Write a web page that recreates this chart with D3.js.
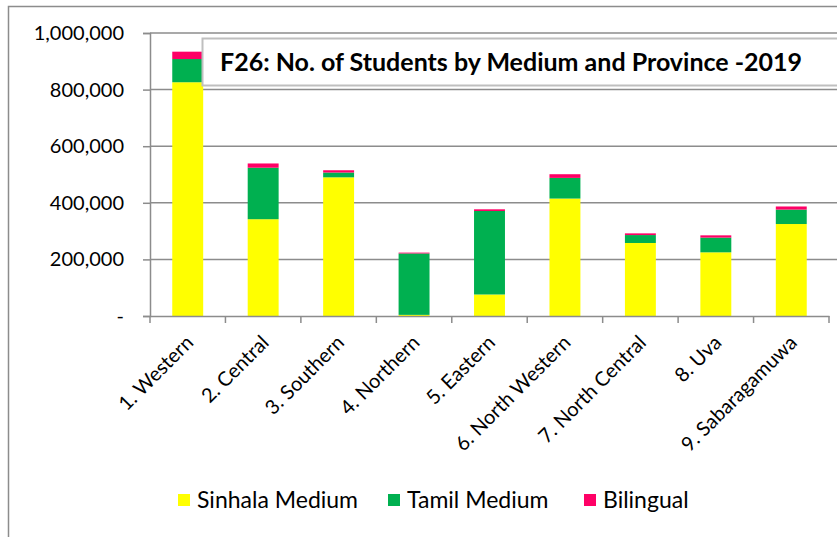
<!DOCTYPE html>
<html lang="en">
<head>
<meta charset="utf-8">
<title>F26: No. of Students by Medium and Province -2019</title>
<script src="https://d3js.org/d3.v7.min.js"></script>
<style>
  body { margin: 0; background: #fff; }
  svg text { font-family: Lato, "Open Sans", sans-serif; fill: #000; }
</style>
</head>
<body>
<div id="chart"></div>
<script>
// data
var provinces = ["1. Western", "2. Central", "3. Southern", "4. Northern", "5. Eastern",
                 "6. North Western", "7. North Central", "8. Uva", "9. Sabaragamuwa"];
var sinhala   = [826000, 342000, 490000,   4000,  76000, 415000, 258000, 225000, 325000];
var tamil     = [ 82000, 182000,  17000, 217000, 295000,  73000,  28000,  52000,  51000];
var bilingual = [ 26000,  15000,   8000,   3000,   6000,  13000,   6000,   8000,  11000];
var seriesNames = ["Sinhala Medium", "Tamil Medium", "Bilingual"];
var seriesColors = ["#ffff00", "#00b050", "#ff0066"];
var yTicks = [0, 200000, 400000, 600000, 800000, 1000000];

var W = 837, H = 537;
var margin = {top: 33, left: 150, right: 8, bottom: 221};
var width = W - margin.left - margin.right,
    height = H - margin.top - margin.bottom;

var svg = d3.select("#chart").append("svg")
    .attr("width", W).attr("height", H);

// outer chart frame
svg.append("rect")
    .attr("x", 8.5).attr("y", 6.5)
    .attr("width", W).attr("height", H)
    .attr("fill", "none").attr("stroke", "#8c8c8c").attr("stroke-width", 1.5);

var g = svg.append("g").attr("transform", "translate(" + margin.left + "," + margin.top + ")");

var rows = provinces.map(function(p, i) {
  return {province: p, "Sinhala Medium": sinhala[i], "Tamil Medium": tamil[i], "Bilingual": bilingual[i]};
});
var stacked = d3.stack().keys(seriesNames)(rows);

var x = d3.scaleBand().domain(provinces).range([0, width]).padding(0);
var barW = x.bandwidth() * 0.41;
var y = d3.scaleLinear().domain([0, 1000000]).range([height, 0]);

// gridlines
g.selectAll("line.grid")
  .data(yTicks.slice(1))
  .enter().append("line")
    .attr("class", "grid")
    .attr("x1", 0).attr("x2", width + 10)
    .attr("y1", function(d) { return y(d); })
    .attr("y2", function(d) { return y(d); })
    .attr("stroke", "#8c8c8c").attr("stroke-width", 1.5);

// y axis
var yAxis = g.append("g")
  .call(d3.axisLeft(y).tickValues(yTicks).tickSize(7).tickPadding(19)
        .tickFormat(function(d) { return d === 0 ? "-" : d3.format(",")(d); }));
yAxis.selectAll("text").style("font-size", "20px").attr("fill", "#000");
yAxis.selectAll("line, path").attr("stroke", "#8c8c8c").attr("stroke-width", 1.5);

// bars
g.selectAll("g.layer")
  .data(stacked)
  .enter().append("g")
    .attr("class", "layer")
    .attr("fill", function(d, i) { return seriesColors[i]; })
  .selectAll("rect")
  .data(function(d) { return d; })
  .enter().append("rect")
    .attr("x", function(d) { return x(d.data.province) + (x.bandwidth() - barW) / 2; })
    .attr("y", function(d) { return y(d[1]); })
    .attr("width", barW)
    .attr("height", function(d) { return y(d[0]) - y(d[1]); });

// x axis
var xAxis = g.append("g")
  .attr("transform", "translate(0," + height + ")")
  .call(d3.axisBottom(x).tickSize(0).tickFormat(""));
xAxis.select(".domain").attr("stroke", "#8c8c8c").attr("stroke-width", 1.5);
// tick marks between categories
g.selectAll("line.xtick")
  .data(d3.range(provinces.length + 1))
  .enter().append("line")
    .attr("class", "xtick")
    .attr("x1", function(i) { return i * x.step(); })
    .attr("x2", function(i) { return i * x.step(); })
    .attr("y1", height).attr("y2", height + 7)
    .attr("stroke", "#8c8c8c").attr("stroke-width", 1.5);

g.selectAll("text.xlab")
  .data(provinces)
  .enter().append("text")
    .attr("class", "xlab")
    .attr("transform", function(d) {
      return "translate(" + (x(d) + x.bandwidth() / 2 - 3) + "," + (height + 18) + ") rotate(-45)";
    })
    .attr("text-anchor", "end")
    .attr("dy", "0.7em")
    .style("font-size", "20px")
    .text(function(d) { return d; });

// title box
var tb = svg.append("g").attr("transform", "translate(202,38)");
tb.append("rect")
    .attr("x", 0.5).attr("y", 0.5)
    .attr("width", 660).attr("height", 47)
    .attr("fill", "#fff").attr("stroke", "#bfbfbf").attr("stroke-width", 2);
tb.append("text")
    .attr("x", 18).attr("y", 33)
    .style("font-size", "25px").style("font-weight", "bold")
    .text("F26: No. of Students by Medium and Province -2019");

// legend
var legX = [178, 388, 584];
var leg = svg.selectAll("g.legend")
  .data(seriesNames)
  .enter().append("g")
    .attr("class", "legend")
    .attr("transform", function(d, i) { return "translate(" + legX[i] + ",494)"; });
leg.append("rect")
    .attr("width", 12).attr("height", 12)
    .attr("fill", function(d, i) { return seriesColors[i]; });
leg.append("text")
    .attr("x", 19).attr("y", 6).attr("dy", "0.36em")
    .style("font-size", "23px")
    .text(function(d) { return d; });
</script>
</body>
</html>
